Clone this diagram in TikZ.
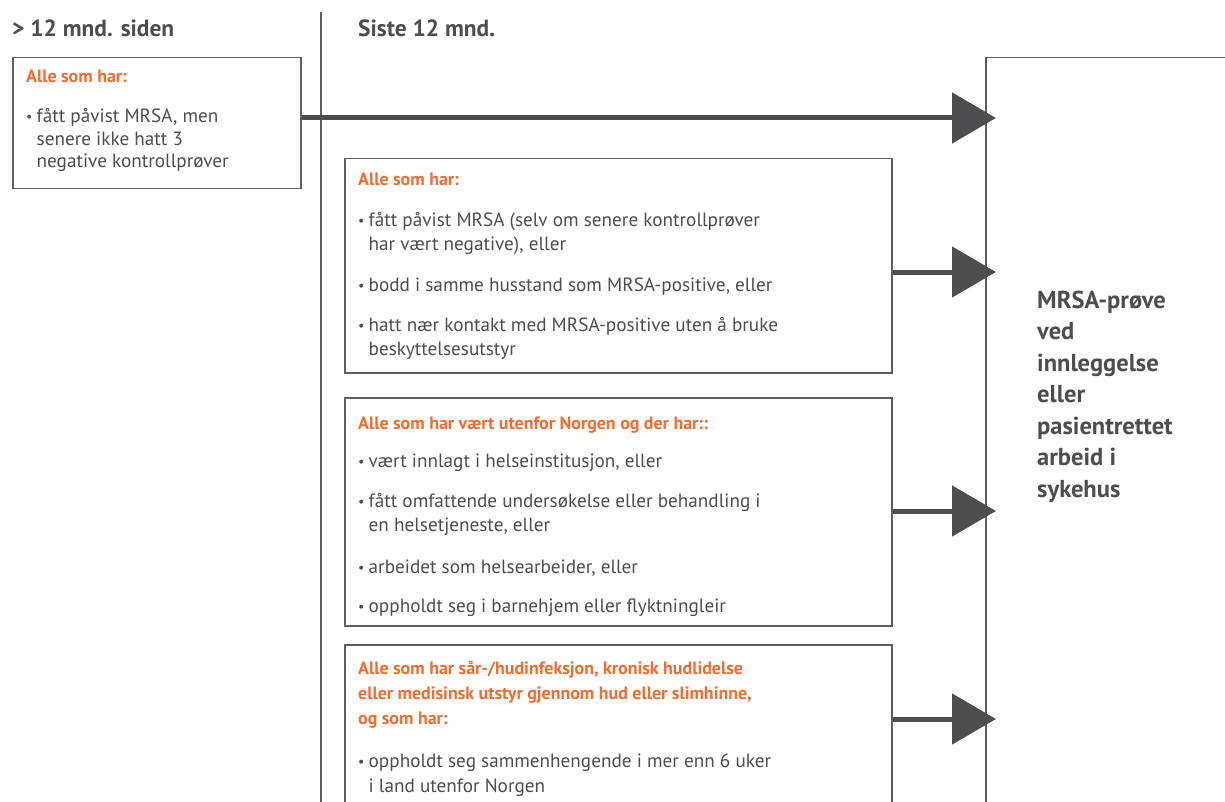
\documentclass[tikz,border=0pt]{standalone}
\usepackage{fontspec}
\setmainfont{PT Sans}
\usetikzlibrary{arrows.meta}

\definecolor{mrsagray}{HTML}{4D4D4F}
\definecolor{mrsaline}{HTML}{5F5F61}
\definecolor{mrsaorange}{HTML}{F26B2F}
\newcommand{\hdr}[1]{{\color{mrsaorange}\bfseries\fontsize{17.9}{24}\selectfont #1}}
\newcommand{\blt}{\makebox[10.5pt][l]{\fontsize{14}{14}\selectfont\raisebox{1pt}{\textbullet}}}
\newcommand{\hng}{\hspace*{10.5pt}}

\begin{document}
\begin{tikzpicture}[x=1pt, y=-1pt,
    box/.style={draw=mrsaline, line width=1.5pt, anchor=north west, inner sep=0pt},
    txt/.style={anchor=base west, inner sep=0pt, align=left, text=mrsagray,
                font=\fontsize{19.2}{24}\selectfont},
    title/.style={anchor=base west, inner sep=0pt, text=mrsagray,
                  font=\fontsize{23.4}{26}\selectfont\bfseries},
    conn/.style={line width=5pt, draw=mrsagray, -{Triangle[length=44pt, width=50pt]}}]
  \clip (0,0) rectangle (1225,802);

  % overskrifter og skillelinje
  \node[title] (eldre) at (12,37) {> 12 mnd. siden};
  \node[title] (siste) at (358,37) {Siste 12 mnd.};
  \coordinate (skilletopp) at (321,12);
  \coordinate (skillebunn) at (321,802);
  \draw[mrsaline, line width=1.5pt] (skilletopp) -- (skillebunn);

  % rammer
  \node[box, minimum width=288pt, minimum height=131pt] (venstre) at (12,57) {};
  \node[box, minimum width=547pt, minimum height=214pt] (kontakt) at (344,158) {};
  \node[box, minimum width=547pt, minimum height=228pt] (utland) at (344,397) {};
  \node[box, minimum width=547pt, minimum height=220pt] (hud) at (344,644) {};
  \node[box, minimum width=300pt, minimum height=800pt] (resultat) at (985,57) {};

  % tekst i rammene (base = siste linje)
  \node[txt, font=\fontsize{19.2}{22.5}\selectfont] (venstretekst) at (26,168) {%
    \hdr{Alle som har:}\\[17.5pt]
    \blt fått påvist MRSA, men\\
    \hng senere ikke hatt 3\\
    \hng negative kontrollprøver};
  \node[txt] (kontakttekst) at (358,355) {%
    \hdr{Alle som har:}\\[17pt]
    \blt fått påvist MRSA (selv om senere kontrollprøver\\
    \hng har vært negative), eller\\[17pt]
    \blt bodd i samme husstand som MRSA-positive, eller\\[16pt]
    \blt hatt nær kontakt med MRSA-positive uten å bruke\\
    \hng beskyttelsesutstyr};
  \node[txt] (utlandtekst) at (358,612) {%
    \hdr{Alle som har vært utenfor Norgen og der har::}\\[14pt]
    \blt vært innlagt i helseinstitusjon, eller\\[16pt]
    \blt fått omfattende undersøkelse eller behandling i\\
    \hng en helsetjeneste, eller\\[18pt]
    \blt arbeidet som helsearbeider, eller\\[15pt]
    \blt oppholdt seg i barnehjem eller flyktningleir};
  \node[txt, font=\fontsize{19.2}{25}\selectfont] (hudtekst) at (358,792) {%
    \hdr{Alle som har sår-/hudinfeksjon, kronisk hudlidelse}\\
    \hdr{eller medisinsk utstyr gjennom hud eller slimhinne,}\\
    \hdr{og som har:}\\[18pt]
    \blt oppholdt seg sammenhengende i mer enn 6 uker\\
    \hng i land utenfor Norgen};
  \node[txt, font=\fontsize{24.5}{31.5}\selectfont\bfseries] (resultattekst) at (1037,497) {%
    MRSA-prøve\\ved\\innleggelse\\eller\\pasientrettet\\arbeid i\\sykehus};

  % piler inn mot resultatet
  \coordinate (mål1) at (996,118);
  \coordinate (mål2) at (996,272);
  \coordinate (mål3) at (996,511);
  \coordinate (mål4) at (996,719);
  \draw[conn] (venstre.east |- mål1) -- (mål1);
  \draw[conn] (kontakt.east |- mål2) -- (mål2);
  \draw[conn] (utland.east |- mål3) -- (mål3);
  \draw[conn] (hud.east |- mål4) -- (mål4);
\end{tikzpicture}
\end{document}
